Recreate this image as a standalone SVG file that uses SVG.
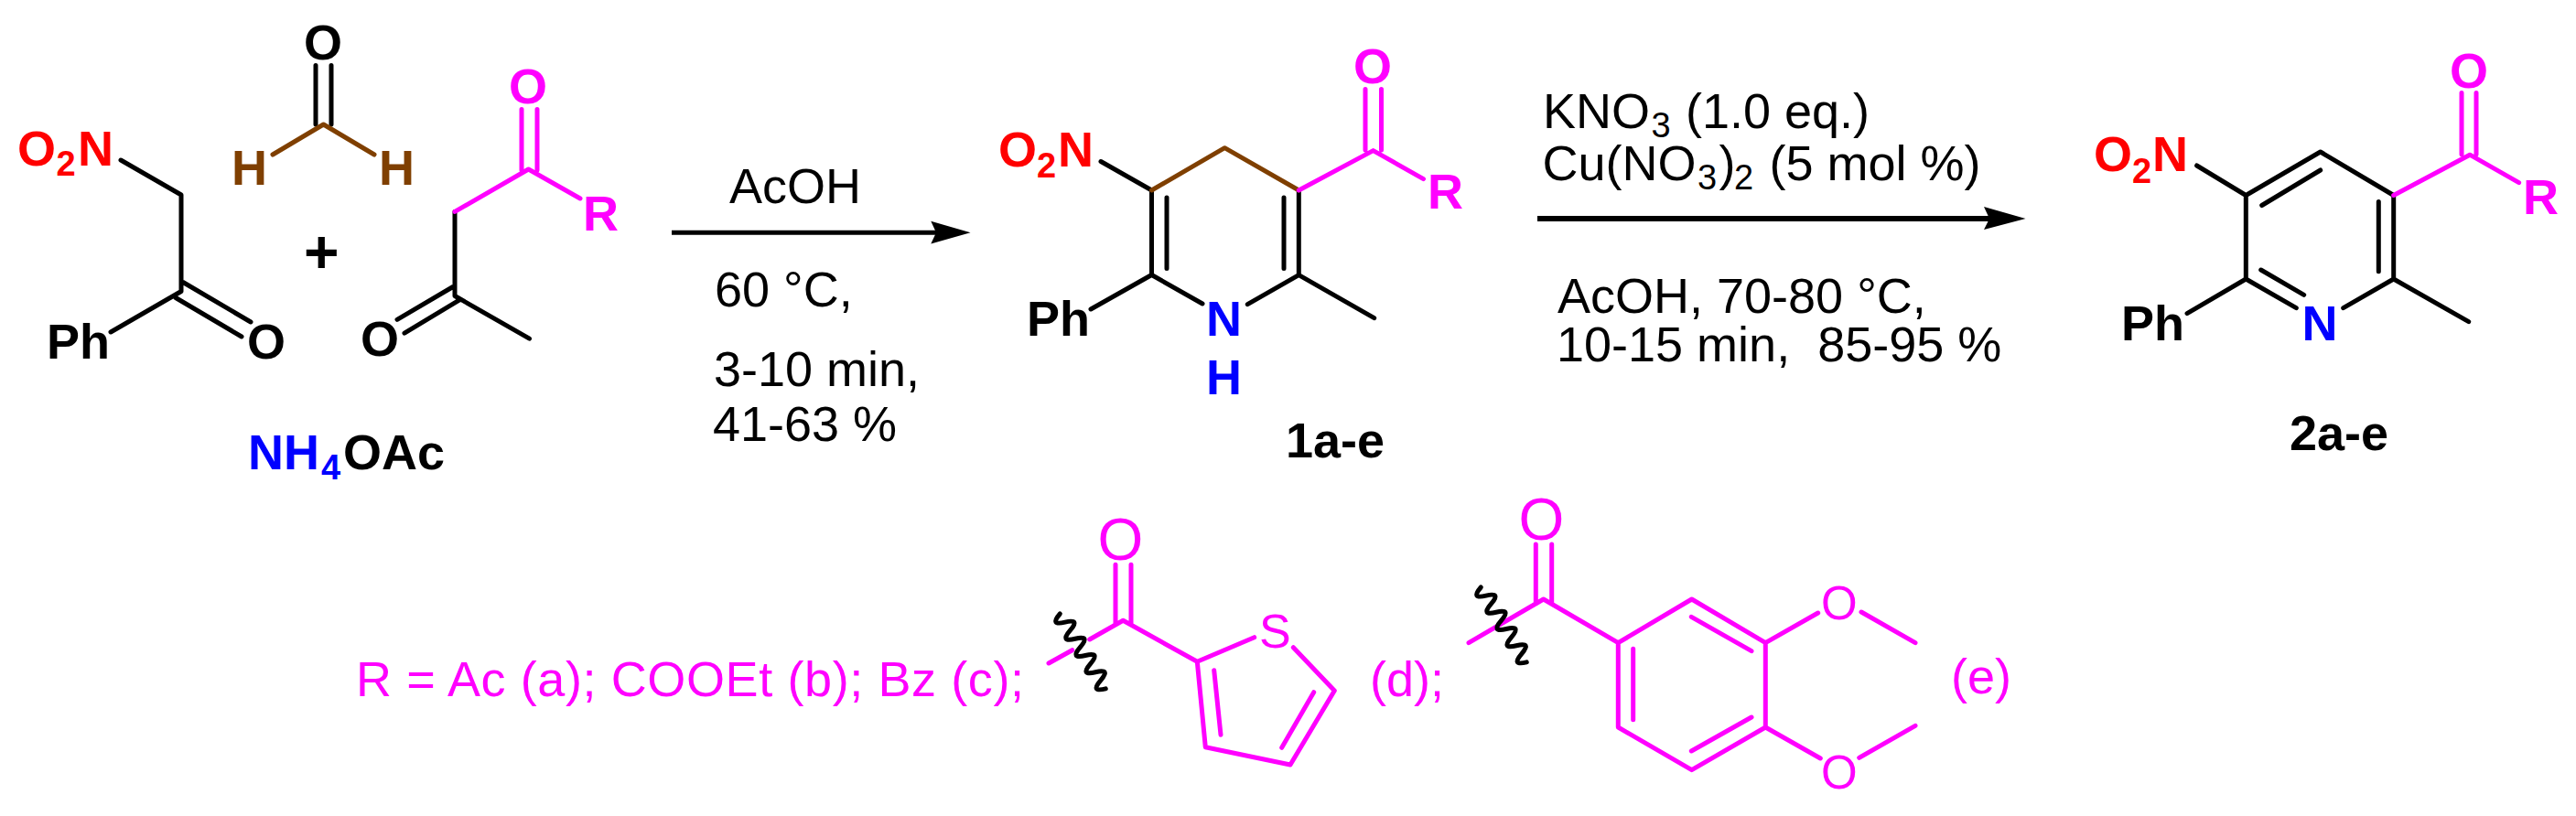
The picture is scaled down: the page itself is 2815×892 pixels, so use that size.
<svg xmlns="http://www.w3.org/2000/svg" width="2815" height="892" viewBox="0 0 2815 892">
<style>
text{font-family:"Liberation Sans",Arial,sans-serif;font-size:54px}
.b{font-weight:bold}
.s{font-size:38px}
.big{font-size:64px}
.mid{font-size:51px}
.k{fill:#000}.r{fill:#f00}.u{fill:#00f}.m{fill:#f0f}.w{fill:#7f3f00}
path{fill:none;stroke-width:5;stroke-linecap:round;stroke-linejoin:round}
.lk{stroke:#000}.lm{stroke:#f0f}.lw{stroke:#7f3f00}
.wig{stroke:#000;stroke-width:5}
.head{fill:#000;stroke:none}
</style>
<rect width="2815" height="892" fill="#fff"/>
<g id="nitroketone">
<path class="lk" d="M132 175L198 213V318.500L121 363M200 308.500L274 352M192 325.500L264 368"/>
<text class="b r" x="19" y="181">O<tspan class="s" x="61.500" y="192">2</tspan><tspan x="85" y="181">N</tspan></text>
<text class="b k" x="51" y="392">Ph</text>
<text class="b k" x="270" y="392">O</text>
</g>
<g id="formaldehyde">
<path class="lk" d="M345 71.500V136M362 71.500V136"/>
<path class="lw" d="M298 169L353.500 136L409 169"/>
<text class="b k" x="332" y="64.700">O</text>
<text class="b w" x="253" y="202">H</text>
<text class="b w" x="414" y="202">H</text>
</g>
<text id="plus" class="b k" x="332" y="298" style="font-size:66px">+</text>
<g id="diketone">
<path class="lk" d="M497 231.400V323.500L578.500 370.200M495 313.500L434 349.300M503 327.400L442 364.200"/>
<path class="lm" d="M570 119.400V186M587 119.400V186M497 231.400L577.500 185L634 217"/>
<text class="b m" x="556" y="112.500">O</text>
<text class="b m" x="637" y="251.800">R</text>
<text class="b k" x="394" y="389">O</text>
</g>
<g id="ammonium-acetate">
<text class="b u" x="271" y="512.500">NH<tspan class="s" x="351" y="523.500">4</tspan></text>
<text class="b k" x="375" y="512.500">OAc</text>
</g>
<g id="compound-1">
<path class="lk" d="M1203 176.500L1258.500 208V300.500L1314 332M1419.300 208V300.700L1363.300 332.700M1275 216V293.500M1403 216V293.500M1258.500 300.500L1192 338M1419.300 300.700L1501.700 347.700"/>
<path class="lw" d="M1258.500 208L1338.300 161.700L1419.300 208"/>
<path class="lm" d="M1419.300 208L1500.600 164.600L1555.500 195.600M1492 97.500V164M1509.500 97.500V164"/>
<text class="b r" x="1091" y="181.700">O<tspan class="s" x="1133" y="194">2</tspan><tspan x="1156" y="181.700">N</tspan></text>
<text class="b k" x="1122" y="366.700">Ph</text>
<text class="b u" x="1318" y="366.700">N</text>
<text class="b u" x="1318" y="430.700">H</text>
<text class="b m" x="1479" y="90.500">O</text>
<text class="b m" x="1560" y="228.300">R</text>
<text class="b k" x="1405" y="500">1a-e</text>
</g>
<g id="conditions-1">
<text class="k" x="797" y="221.700">AcOH</text>
<text class="k" x="781" y="335">60 °C,</text>
<text class="k" x="780" y="421.700">3-10 min,</text>
<text class="k" x="779" y="481.700">41-63 %</text>
</g>
<g id="conditions-2">
<text class="k" x="1686" y="140">KNO<tspan class="s" x="1804.500" y="150">3</tspan><tspan x="1842" y="140">(1.0 eq.)</tspan></text>
<text class="k" x="1685.500" y="197.300">Cu(NO<tspan class="s" x="1855" y="207.300">3</tspan><tspan x="1878.500" y="197.300">)</tspan><tspan class="s" x="1895" y="207.300">2</tspan><tspan x="1933.500" y="197.300">(5 mol %)</tspan></text>
<text class="k" x="1702" y="341.700">AcOH, 70-80 °C,</text>
<text class="k" x="1701" y="395" xml:space="preserve">10-15 min,  85-95 %</text>
</g>
<g id="compound-2">
<path class="lk" d="M2400.600 181L2454.300 213.500V305L2509.300 336.700M2454.300 213.500L2535.700 166L2615.700 213.500V305L2560.700 336.700M2471.700 224.500L2535.700 186M2599.300 220.400V296.700M2470.700 295L2517.700 322.300M2454.300 305L2390 342.600M2615.700 305L2697.700 351.700"/>
<path class="lm" d="M2615.700 213.500L2699 169.200L2752.600 199.700M2690 101.500V168.700M2706 101.500V168.700"/>
<text class="b r" x="2288" y="187">O<tspan class="s" x="2330" y="199.700">2</tspan><tspan x="2352" y="187">N</tspan></text>
<text class="b k" x="2318" y="371.700">Ph</text>
<text class="b u" x="2515.500" y="371.700">N</text>
<text class="b m" x="2677" y="95.500">O</text>
<text class="b m" x="2757" y="233.500">R</text>
<text class="b k" x="2502" y="492.300">2a-e</text>
</g>
<g id="r-legend">
<text class="m" x="389" y="761" textLength="730">R = Ac (a); COOEt (b); Bz (c);</text>
<text class="m" x="1497" y="761">(d);</text>
<text class="m" x="2132" y="758">(e)</text>
</g>
<g id="thienyl-substituent">
<path class="lm" d="M1146 725L1171.700 710.700M1190.700 699L1227.300 678.300L1308.300 723.300L1370.700 696.700M1413.300 707.700L1458.300 755L1410 836L1317.300 816.700L1308.300 723.300M1326.700 732.700L1334 803.300M1435.700 756.700L1400.700 817.300M1219 617.300V681.700M1236 617.300V681.700"/>
<path class="wig" d="M1158.300 671q-11.700 13.400 5.550 9.100t5.550 9.100t5.550 9.100t5.550 9.100t5.550 9.100t5.550 9.100t5.550 9.100t5.550 9.100t5.550 9.100"/>
<text class="m big" x="1199.500" y="612">O</text>
<text class="m" style="font-size:52px" x="1376" y="708">S</text>
</g>
<g id="dimethoxyphenyl-substituent">
<path class="lm" d="M1605 702.700L1686.700 655L1768.300 702.700L1848.700 655L1929.300 702.700V795L1848.700 841.700L1768.300 795V702.700M1848.300 674.300L1914 711.700M1914 784L1848.300 821M1784.700 709.300V786.700M1678.300 595V660M1695.700 595V660M1929.300 702.700L1986.700 670M2034 669L2093 702.700M1929.300 795L1989.300 829M2031.700 828.300L2093 793.300"/>
<path class="wig" d="M1618.300 642q-11.700 13.400 5.550 9.100t5.550 9.100t5.550 9.100t5.550 9.100t5.550 9.100t5.550 9.100t5.550 9.100t5.550 9.100t5.550 9.100"/>
<text class="m big" x="1659.500" y="590">O</text>
<text class="m mid" x="1990" y="677">O</text>
<text class="m mid" x="1990" y="861.500">O</text>
</g>
<g id="connectors">
<path class="lk" style="stroke-width:5;stroke-linecap:butt" d="M734 254.300H1030"/>
<path class="head" d="M1060.500 254.300L1017.300 241.700L1023 254.300L1017.300 266.500Z"/>
<path class="lk" style="stroke-width:6;stroke-linecap:butt" d="M1680 239H2180"/>
<path class="head" d="M2213.500 239L2168 226L2174 239L2168 251Z"/>
</g>
</svg>
